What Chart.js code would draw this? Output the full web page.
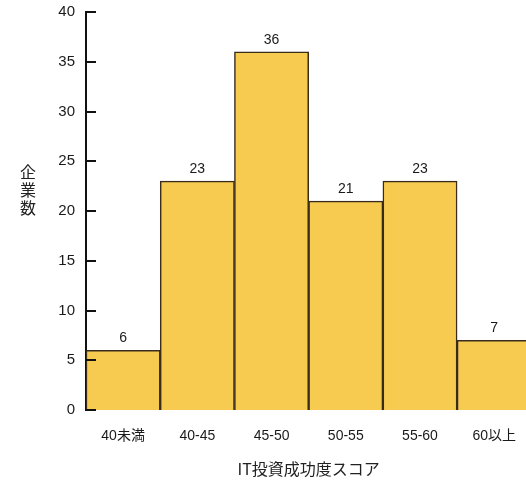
<!DOCTYPE html>
<html>
<head>
<meta charset="utf-8">
<script src="https://cdn.jsdelivr.net/npm/chart.js@4/dist/chart.umd.min.js"></script>
<style>
  html, body { margin: 0; padding: 0; background: #fff; overflow: hidden; }
  #wrap { width: 526px; height: 483px; overflow: hidden; }
</style>
</head>
<body>
<div id="wrap"><canvas id="c" width="534" height="483"></canvas></div>
<script>
// スコア帯ごとの企業数
const categories = ['40未満', '40-45', '45-50', '50-55', '55-60', '60以上'];
const counts = [6, 23, 36, 21, 23, 7];
const yTicks = [0, 5, 10, 15, 20, 25, 30, 35, 40];
const yTitle = '企業数';
const xTitle = 'IT投資成功度スコア';

const numFont = '"Liberation Sans", "Noto Sans CJK JP", sans-serif';
const jpFont = '"Noto Sans CJK JP", "Noto Sans", sans-serif';

// 内向きの目盛り線
const innerTicks = {
  id: 'innerTicks',
  afterDraw(chart) {
    const y = chart.scales.y;
    const ctx = chart.ctx;
    ctx.save();
    ctx.strokeStyle = '#111';
    ctx.lineWidth = 2;
    y.ticks.forEach(t => {
      const py = Math.round(y.getPixelForValue(t.value));
      ctx.beginPath();
      ctx.moveTo(chart.chartArea.left, py);
      ctx.lineTo(chart.chartArea.left + 10, py);
      ctx.stroke();
    });
    ctx.restore();
  }
};

// 棒の上の件数ラベル
const valueLabels = {
  id: 'valueLabels',
  afterDatasetsDraw(chart) {
    const ctx = chart.ctx;
    const meta = chart.getDatasetMeta(0);
    ctx.save();
    ctx.fillStyle = '#1a1a1a';
    ctx.font = '14px ' + numFont;
    ctx.textAlign = 'center';
    ctx.textBaseline = 'alphabetic';
    meta.data.forEach((bar, i) => {
      ctx.fillText(String(counts[i]), bar.x, bar.y - 8);
    });
    ctx.restore();
  }
};

// 縦書きの軸タイトル
const verticalTitle = {
  id: 'verticalTitle',
  afterDraw(chart) {
    const ctx = chart.ctx;
    ctx.save();
    ctx.fillStyle = '#222';
    ctx.font = '16px ' + jpFont;
    ctx.textAlign = 'center';
    ctx.textBaseline = 'middle';
    const chars = Array.from(yTitle);
    const step = 18;
    const cy = 190;
    chars.forEach((ch, i) => {
      ctx.fillText(ch, 28, cy + (i - (chars.length - 1) / 2) * step);
    });
    ctx.restore();
  }
};

new Chart(document.getElementById('c'), {
  type: 'bar',
  data: {
    labels: categories,
    datasets: [{
      data: counts,
      backgroundColor: '#F7CB50',
      borderColor: '#3a2c1c',
      borderWidth: 1.5,
      barPercentage: 1,
      categoryPercentage: 1
    }]
  },
  options: {
    responsive: false,
    animation: false,
    layout: { padding: { top: 12, left: 0, right: 0, bottom: 0 } },
    plugins: { legend: { display: false }, tooltip: { enabled: false } },
    scales: {
      y: {
        min: 0,
        max: 40,
        afterBuildTicks(scale) { scale.ticks = yTicks.map(v => ({ value: v })); },
        afterFit(scale) {
          scale.width = 86;
          scale.paddingTop = 0;
          scale.paddingBottom = 0;
        },
        grid: { display: false, drawTicks: false },
        border: { display: true, color: '#111', width: 2 },
        ticks: {
          padding: 11,
          color: '#1a1a1a',
          font: { family: numFont, size: 15 }
        }
      },
      x: {
        afterFit(scale) { scale.height = 73; },
        grid: { display: false, drawTicks: false },
        border: { display: false },
        ticks: {
          padding: 18,
          color: '#1a1a1a',
          font: { family: numFont, size: 14 }
        },
        title: {
          display: true,
          text: xTitle,
          color: '#222',
          font: { family: jpFont, size: 16 },
          padding: { top: 0, bottom: 4 }
        }
      }
    }
  },
  plugins: [innerTicks, valueLabels, verticalTitle]
});
</script>
</body>
</html>
